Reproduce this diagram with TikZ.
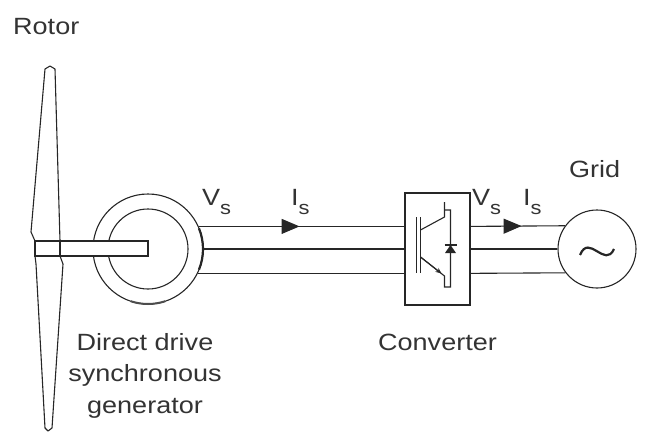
\documentclass[tikz,border=0pt]{standalone}
\usepackage{fontspec}
\newfontfamily\lblfont[FakeStretch=1.15]{Liberation Sans}
\usetikzlibrary{calc, arrows.meta, decorations.markings}
\newcommand{\subs}[1]{\raisebox{-9pt}{\fontsize{19}{19}\selectfont #1}}
\tikzset{
    lbl/.style={font=\lblfont\fontsize{23.5}{31.5}\selectfont, text=black!80, inner sep=0pt},
    wire/.style={line width=1.1pt, draw=black!85},
    flow/.style={postaction={decorate}, decoration={markings,
        mark=at position #1 with {\arrow{Triangle[length=18pt,width=15pt]}}}}
}

\begin{document}
\begin{tikzpicture}[x=1pt, y=-1pt]
        \useasboundingbox (0,0) rectangle (652,433);
        \node[lbl, anchor=base west] (rotor) at (13,35) {Rotor};
        \draw[wire, line join=round, fill=white] (50,66) -- (55,69) -- (60,241) -- (35,241) -- (31,232) -- (45,69) -- cycle;
        \draw[wire, line join=round, fill=white] (35,256) -- (60,256) -- (63,264) -- (52,428) -- (48,431) -- (45,428) -- (36,264) -- cycle;
        \node[circle, draw, wire, minimum size=110pt, inner sep=0pt] (gen) at (148,249) {};
        \draw[wire] (gen.center) circle (40);
        \draw[line width=2.2pt, black!85] (gen.center) ++(-22:55) arc (-22:22:55);
        \draw[line width=2pt, black!70] (gen.center) ++(72:55) arc (72:108:55);
        \draw[wire, fill=white] (35,241) rectangle (148,256);
        \draw[wire] (60,241) -- (60,256);
        \node[draw, wire, minimum width=65pt, minimum height=112pt, inner sep=0pt] (conv) at (437.5,249) {};
        \begin{scope}[shift={(conv.center)}, wire]
            \draw (-21,-32) -- (-21,24);
            \draw (-17,-32) -- (-17,24);
            \draw (-17,-19) -- (7,-32) -- (7,-47);
            \draw (7,-39) -- (13,-39) -- (13,38) -- (7,38) -- (7,27) -- (-17,8);
            \draw[-{Stealth[length=6pt,width=5pt]}] (-17,8) -- (4,24.5);
            \fill[black!85] (7.5,4) -- (18.5,4) -- (13,-4) -- cycle;
            \draw (7,-4) -- (19,-4);
        \end{scope}
        \node[circle, draw, wire, minimum size=78pt, inner sep=0pt] (grid) at (597,249) {};
        \draw[line width=2.2pt, black!85, shift={(grid.center)}] (-17,6) .. controls (-8,-16) and (8,20) .. (17,0);
        \draw[wire, flow=0.49] (gen.24) -- (gen.24 -| conv.west);
        \draw[wire] (gen.0) -- (conv.west);
        \draw[wire] (gen.-26) -- (gen.-26 -| conv.west);
        \draw[wire, flow=0.54] (gen.24 -| conv.east) -- (grid.144);
        \draw[wire] (conv.east) -- (grid.west);
        \draw[wire] (gen.-26 -| conv.east) -- (grid.-143);
        \node[lbl, anchor=base west] (vs1) at (202,205) {V\subs{s}};
        \node[lbl, anchor=base west] (is1) at (291,205) {I\subs{s}};
        \node[lbl, anchor=base west] (vs2) at (472,205) {V\subs{s}};
        \node[lbl, anchor=base west] (is2) at (523,205) {I\subs{s}};
        \node[lbl, anchor=base west] (gridlbl) at (569,177) {Grid};
        \node[lbl, anchor=base] (convlbl) at (437.5,350) {Converter};
        \node[lbl, anchor=north, align=center] (genlbl) at (145,333) {Direct drive\\synchronous\\generator};
    \end{tikzpicture}
\end{document}
